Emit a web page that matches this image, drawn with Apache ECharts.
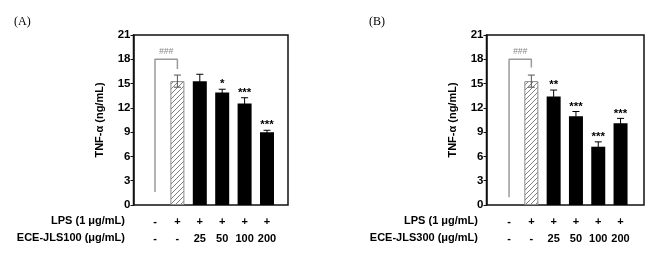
<!DOCTYPE html>
<html><head><meta charset="utf-8">
<script src="https://cdn.jsdelivr.net/npm/echarts@6/dist/echarts.min.js"></script>
<style>html,body{margin:0;padding:0;background:#fff}#c{width:668px;height:256px}</style>
</head><body><div id="c"></div>
<script>
// ---- data ----
const categories = ['ctrl', 'lps', 'd25', 'd50', 'd100', 'd200'];
const lpsRow = ['-', '+', '+', '+', '+', '+'];
const doseRow = ['-', '-', '25', '50', '100', '200'];
const yMin = 0, yMax = 21, yStep = 3;
const meansA = [null, 15.3, 15.3, 13.9, 12.55, 9.0];
const errA = [null, 0.75, 0.85, 0.4, 0.7, 0.23];
const starsA = ['', '', '', '*', '***', '***'];
const meansB = [null, 15.3, 13.4, 10.95, 7.2, 10.1];
const errB = [null, 0.75, 0.8, 0.6, 0.6, 0.6];
const starsB = ['', '', '**', '***', '***', '***'];
const bracketA = [1.6, 18, 16.8];
const bracketB = [0.95, 18, 17];
const hashLabel = '###';
const yName = 'TNF-α (ng/mL)';
const rowTitleLps = 'LPS (1 μg/mL)';
const rowTitleA = 'ECE-JLS100 (μg/mL)';
const rowTitleB = 'ECE-JLS300 (μg/mL)';

// ---- hatch pattern ----
const pc = document.createElement('canvas');
pc.width = 5; pc.height = 5;
const g = pc.getContext('2d');
g.fillStyle = '#fff'; g.fillRect(0, 0, 5, 5);
g.strokeStyle = '#808080'; g.lineWidth = 1;
g.beginPath(); g.moveTo(-1, 6); g.lineTo(6, -1); g.stroke();
g.beginPath(); g.moveTo(-1, 1); g.lineTo(1, -1); g.stroke();
g.beginPath(); g.moveTo(4, 6); g.lineTo(6, 4); g.stroke();
const hatch = { image: pc, repeat: 'repeat' };

const FONT = "'Liberation Sans', Arial, sans-serif";
const chart = echarts.init(document.getElementById('c'), null, { renderer: 'canvas' });

const frames = [
  { left: 133.5, top: 35, width: 154.5, height: 170 },
  { left: 486.5, top: 35, width: 157.5, height: 170 }
];
const datas = [
  { left: 143.8, top: 35, width: 134.4, height: 170 },
  { left: 497.9, top: 35, width: 133.8, height: 170 }
];

const grid = [], xAxis = [], yAxis = [], series = [];
const panels = [
  { means: meansA, errs: errA, stars: starsA, bracket: bracketA },
  { means: meansB, errs: errB, stars: starsB, bracket: bracketB }
];
panels.forEach((p, k) => {
  const fi = grid.length;
  grid.push(Object.assign({ show: true, borderColor: '#111', borderWidth: 1.5, backgroundColor: 'transparent' }, frames[k]));
  const di = grid.length;
  grid.push(Object.assign({}, datas[k]));
  xAxis.push({ gridIndex: fi, type: 'value', show: false, min: 0, max: 1 });
  yAxis.push({
    gridIndex: fi, type: 'value', min: yMin, max: yMax, interval: yStep,
    axisLine: { show: true, lineStyle: { color: '#111', width: 1.5 } },
    axisTick: { show: true, inside: false, length: 3, lineStyle: { color: '#111' } },
    splitLine: { show: false },
    axisLabel: { color: '#000', fontFamily: FONT, fontWeight: 'bold', fontSize: 11.5, margin: 3 },
    name: yName, nameLocation: 'middle', nameGap: 28, nameRotate: 90,
    nameTextStyle: { color: '#000', fontFamily: FONT, fontWeight: 'bold', fontSize: 11 }
  });
  xAxis.push({
    gridIndex: di, type: 'category', data: categories,
    axisLine: { show: false }, axisTick: { show: false },
    axisLabel: {
      interval: 0, margin: 8, color: '#000', fontFamily: FONT, fontWeight: 'bold', fontSize: 11, lineHeight: 17,
      formatter: (v, i) => lpsRow[i] + '\n' + doseRow[i]
    }
  });
  yAxis.push({ gridIndex: di, type: 'value', min: yMin, max: yMax, show: false });
  const xi = xAxis.length - 1, yi = yAxis.length - 1;
  series.push({
    type: 'bar', xAxisIndex: xi, yAxisIndex: yi, barWidth: 14, silent: true,
    data: p.means.map((m, i) => m == null ? '-' : {
      value: m,
      itemStyle: i === 1 ? { color: hatch, borderColor: '#8a8a8a', borderWidth: 1 } : { color: '#000' }
    })
  });
  series.push({
    type: 'line', xAxisIndex: xi, yAxisIndex: yi, symbol: 'none', silent: true,
    lineStyle: { color: '#9a9a9a', width: 1.5 },
    data: [[0, p.bracket[0]], [0, p.bracket[1]], [1, p.bracket[1]], [1, p.bracket[2]]],
    z: 1
  });
  series.push({
    type: 'custom', xAxisIndex: xi, yAxisIndex: yi, silent: true, z: 5,
    data: p.means.map((m, i) => [i, m == null ? 0 : m, p.errs[i] == null ? 0 : p.errs[i]]),
    renderItem: (params, api) => {
      const i = api.value(0), m = p.means[i];
      const children = [];
      if (i === 1) {
        const a = api.coord([0, p.bracket[1]]), b = api.coord([1, p.bracket[1]]);
        children.push({ type: 'text', style: { x: (a[0] + b[0]) / 2, y: a[1] - 3, text: hashLabel, fill: '#888',
          font: 'italic 8.5px ' + FONT, textAlign: 'center', textVerticalAlign: 'bottom' } });
      }
      if (m == null) return { type: 'group', children };
      const e = p.errs[i];
      const top = api.coord([i, m + e]), bot = api.coord([i, m - e]);
      const col = i === 1 ? '#555' : '#000';
      children.push({ type: 'line', shape: { x1: top[0], y1: top[1], x2: bot[0], y2: bot[1] }, style: { stroke: col, lineWidth: 1 } });
      children.push({ type: 'line', shape: { x1: top[0] - 3.5, y1: top[1], x2: top[0] + 3.5, y2: top[1] }, style: { stroke: col, lineWidth: 1 } });
      children.push({ type: 'line', shape: { x1: bot[0] - 3.5, y1: bot[1], x2: bot[0] + 3.5, y2: bot[1] }, style: { stroke: col, lineWidth: 1 } });
      if (p.stars[i]) {
        children.push({ type: 'text', style: { x: top[0], y: top[1] + 1, text: p.stars[i], fill: '#000',
          font: 'bold 11.5px ' + FONT, textAlign: 'center', textVerticalAlign: 'bottom' } });
      }
      return { type: 'group', children };
    }
  });
});

const tStyle = (t, x, y, align, font) => ({ type: 'text', x, y, style: { text: t, fill: '#000', font, textAlign: align, textVerticalAlign: 'middle' } });
const bold11 = 'bold 11px ' + FONT;
chart.setOption({
  animation: false,
  backgroundColor: '#fff',
  grid, xAxis, yAxis, series,
  graphic: [
    tStyle('(A)', 14, 22, 'left', "12px 'Liberation Serif', 'Times New Roman', serif"),
    tStyle('(B)', 369, 22, 'left', "12px 'Liberation Serif', 'Times New Roman', serif"),
    tStyle(rowTitleLps, 125, 221, 'right', bold11),
    tStyle(rowTitleA, 125, 238, 'right', bold11),
    tStyle(rowTitleLps, 478, 221, 'right', bold11),
    tStyle(rowTitleB, 478, 238, 'right', bold11)
  ]
});
</script></body></html>
